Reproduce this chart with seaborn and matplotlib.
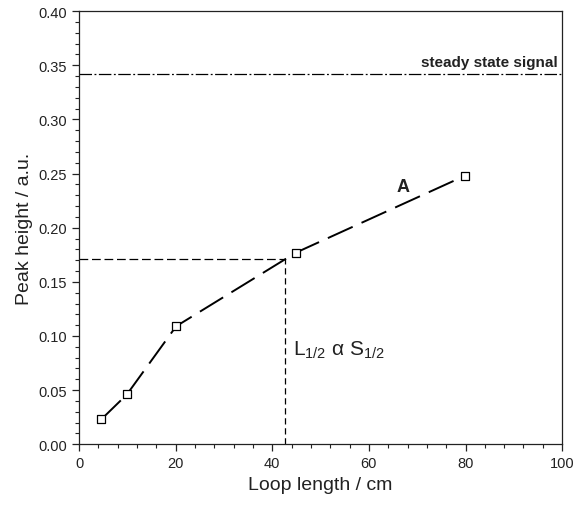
import numpy as np
import pandas as pd
import seaborn as sns
import matplotlib.pyplot as plt
from matplotlib.ticker import MultipleLocator

# 数据
loop_length = [4.6, 9.9, 20.1, 44.9, 79.9]
peak_height = [0.023, 0.046, 0.109, 0.177, 0.248]
steady_state = 0.342
half_x = 42.6
half_y = 0.171

df = pd.DataFrame({"Loop length": loop_length, "Peak height": peak_height})

sns.set_style("ticks")
plt.rcParams['font.family'] = ['Liberation Sans', 'DejaVu Sans']
plt.rcParams['mathtext.default'] = 'regular'
plt.rcParams['text.color'] = '#222222'
plt.rcParams['axes.labelcolor'] = '#222222'
plt.rcParams['xtick.color'] = '#222222'
plt.rcParams['ytick.color'] = '#222222'
plt.rcParams['axes.edgecolor'] = '#222222'

fig, ax = plt.subplots(figsize=(5.73, 5.06), dpi=100)

# 连线（长虚线）
sns.lineplot(data=df, x="Loop length", y="Peak height", ax=ax, color="black",
             linewidth=1.4, dashes=False, linestyle=(0, (14, 5)), zorder=2)
# 空心方块
sns.scatterplot(data=df, x="Loop length", y="Peak height", ax=ax, marker="s",
                s=40, facecolor="white", edgecolor="black", linewidth=0.9, zorder=3)

# steady state 线
ax.axhline(steady_state, color="black", linewidth=0.9, linestyle=(0, (10, 2, 1.5, 2)))
ax.text(99, steady_state + 0.005, "steady state signal", ha="right", va="bottom",
        fontsize=11, fontweight="bold")

# 半高辅助线
ax.plot([0, half_x], [half_y, half_y], color="black", linewidth=0.9, linestyle=(0, (7, 3)))
ax.plot([half_x, half_x], [0, half_y], color="black", linewidth=0.9, linestyle=(0, (5, 3)))

ax.text(67, 0.238, "A", fontsize=13, fontweight="bold", ha="center", va="center")
ax.text(44.2, 0.088, "L$_{1/2}$ α S$_{1/2}$", fontsize=15, ha="left", va="center")

ax.set_xlim(0, 100)
ax.set_ylim(0, 0.40)
ax.xaxis.set_major_locator(MultipleLocator(20))
ax.xaxis.set_minor_locator(MultipleLocator(4))
ax.yaxis.set_major_locator(MultipleLocator(0.05))
ax.yaxis.set_minor_locator(MultipleLocator(0.01))
ax.yaxis.set_major_formatter(plt.FormatStrFormatter("%.2f"))
ax.tick_params(which="major", length=5, width=0.9, labelsize=10.5)
ax.tick_params(which="minor", length=3, width=0.8)
for sp in ax.spines.values():
    sp.set_linewidth(0.9)

ax.set_xlabel("Loop length / cm", fontsize=14)
ax.set_ylabel("Peak height / a.u.", fontsize=14)

fig.subplots_adjust(left=0.138, right=0.981, top=0.976, bottom=0.12)
fig.savefig("out.png", dpi=100)
